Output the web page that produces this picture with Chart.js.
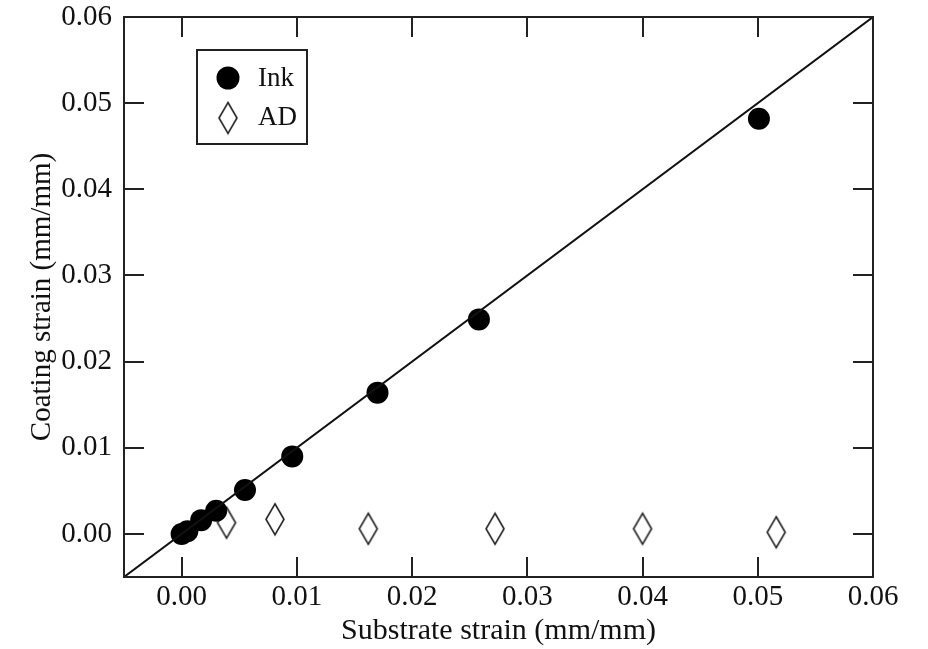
<!DOCTYPE html>
<html>
<head>
<meta charset="utf-8">
<script src="https://cdn.jsdelivr.net/npm/chart.js@4.4.1/dist/chart.umd.min.js"></script>
<style>
  html, body { margin: 0; padding: 0; background: #fff; }
  #wrap { width: 928px; height: 649px; }
</style>
</head>
<body>
<div id="wrap"><canvas id="strainchart" width="928" height="649"></canvas></div>
<script>
// values (mm/mm)
var inkX = [0.0000, 0.0005, 0.0017, 0.0030, 0.0055, 0.0096, 0.0170, 0.0258, 0.0501];
var inkY = [0.0000, 0.0003, 0.0016, 0.0027, 0.0051, 0.0090, 0.0164, 0.0249, 0.0482];
var adX = [0.0039, 0.0081, 0.0162, 0.0272, 0.0400, 0.0516];
var adY = [0.0013, 0.0017, 0.0006, 0.0006, 0.0006, 0.0002];
var lineX = [-0.005, 0.06];
var lineY = [-0.005, 0.06];
var tickValues = [0.00, 0.01, 0.02, 0.03, 0.04, 0.05, 0.06];
var seriesLabels = ['Ink', 'AD'];

var serif = "'Liberation Serif', 'DejaVu Serif', serif";

function toPoints(xs, ys) {
    var pts = [];
    for (var i = 0; i < xs.length; i++) pts.push({ x: xs[i], y: ys[i] });
    return pts;
}

// tall open diamond used for AD
function makeDiamond(w, h) {
    var c = document.createElement('canvas');
    c.width = w + 4;
    c.height = h + 4;
    var g = c.getContext('2d');
    g.strokeStyle = '#222';
    g.lineWidth = 1.6;
    g.beginPath();
    g.moveTo(c.width / 2, 2);
    g.lineTo(c.width - 2, c.height / 2);
    g.lineTo(c.width / 2, c.height - 2);
    g.lineTo(2, c.height / 2);
    g.closePath();
    g.stroke();
    return c;
}
var diamond = makeDiamond(18, 31);

function keepTicks(scale) {
    scale.ticks = tickValues.map(function (v) { return { value: v }; });
}

var frameAndTicks = {
    id: 'frameAndTicks',
    afterDatasetsDraw: function (chart) {
        var ctx = chart.ctx;
        var a = chart.chartArea;
        var xs = chart.scales.x, ys = chart.scales.y;
        var len = 20;
        ctx.save();
        ctx.strokeStyle = '#222';
        ctx.lineWidth = 2;
        ctx.beginPath();
        tickValues.forEach(function (v) {
            var px = Math.round(xs.getPixelForValue(v));
            var py = Math.round(ys.getPixelForValue(v));
            if (px > a.left && px < a.right) {
                ctx.moveTo(px, a.bottom); ctx.lineTo(px, a.bottom - len);
                ctx.moveTo(px, a.top); ctx.lineTo(px, a.top + len);
            }
            if (py > a.top && py < a.bottom) {
                ctx.moveTo(a.left, py); ctx.lineTo(a.left + len, py);
                ctx.moveTo(a.right, py); ctx.lineTo(a.right - len, py);
            }
        });
        ctx.stroke();
        ctx.strokeRect(a.left, a.top, a.right - a.left, a.bottom - a.top);

        // legend box in the upper left
        ctx.strokeRect(197, 50, 110, 94);
        ctx.fillStyle = '#000';
        ctx.beginPath();
        ctx.arc(228, 78, 11.5, 0, Math.PI * 2);
        ctx.fill();
        ctx.drawImage(diamond, 228 - diamond.width / 2, 118 - diamond.height / 2);
        ctx.font = '27px ' + serif;
        ctx.textBaseline = 'middle';
        ctx.fillStyle = '#111';
        ctx.fillText(seriesLabels[0], 258, 79);
        ctx.fillText(seriesLabels[1], 258, 118);
        ctx.restore();
    }
};

var ctx = document.getElementById('strainchart').getContext('2d');
var strainchart = new Chart(ctx, {
    type: 'scatter',
    data: {
        datasets: [{
            type: 'line',
            label: 'fit',
            data: toPoints(lineX, lineY),
            borderColor: '#111',
            borderWidth: 2,
            pointRadius: 0,
            fill: false
        }, {
            label: seriesLabels[0],
            data: toPoints(inkX, inkY),
            pointStyle: 'circle',
            pointRadius: 11,
            backgroundColor: '#000',
            borderColor: '#000',
            borderWidth: 0
        }, {
            label: seriesLabels[1],
            data: toPoints(adX, adY),
            pointStyle: diamond,
            pointRadius: 10
        }]
    },
    options: {
        responsive: false,
        animation: false,
        layout: { padding: { left: 0, top: 17, right: 55, bottom: 0 } },
        plugins: { legend: { display: false }, tooltip: { enabled: false } },
        scales: {
            x: {
                type: 'linear',
                min: -0.005,
                max: 0.06,
                afterBuildTicks: keepTicks,
                afterFit: function (s) { s.height = 72; s.paddingLeft = 0; s.paddingRight = 0; },
                grid: { display: false, drawTicks: false },
                border: { display: false },
                ticks: {
                    padding: 3,
                    color: '#111',
                    font: { family: serif, size: 29 },
                    maxRotation: 0,
                    callback: function (v) { return v.toFixed(2); }
                },
                title: {
                    display: true,
                    text: 'Substrate strain (mm/mm)',
                    color: '#111',
                    font: { family: serif, size: 30 },
                    padding: { top: 0, bottom: 0 }
                }
            },
            y: {
                type: 'linear',
                min: -0.005,
                max: 0.06,
                afterBuildTicks: keepTicks,
                afterFit: function (s) { s.width = 124; s.paddingTop = 0; s.paddingBottom = 0; },
                grid: { display: false, drawTicks: false },
                border: { display: false },
                ticks: {
                    padding: 12,
                    color: '#111',
                    font: { family: serif, size: 29 },
                    callback: function (v) { return v.toFixed(2); }
                },
                title: {
                    display: true,
                    text: 'Coating strain (mm/mm)',
                    color: '#111',
                    font: { family: serif, size: 29 },
                    padding: { top: 25, bottom: 0 }
                }
            }
        }
    },
    plugins: [frameAndTicks]
});
</script>
</body>
</html>
